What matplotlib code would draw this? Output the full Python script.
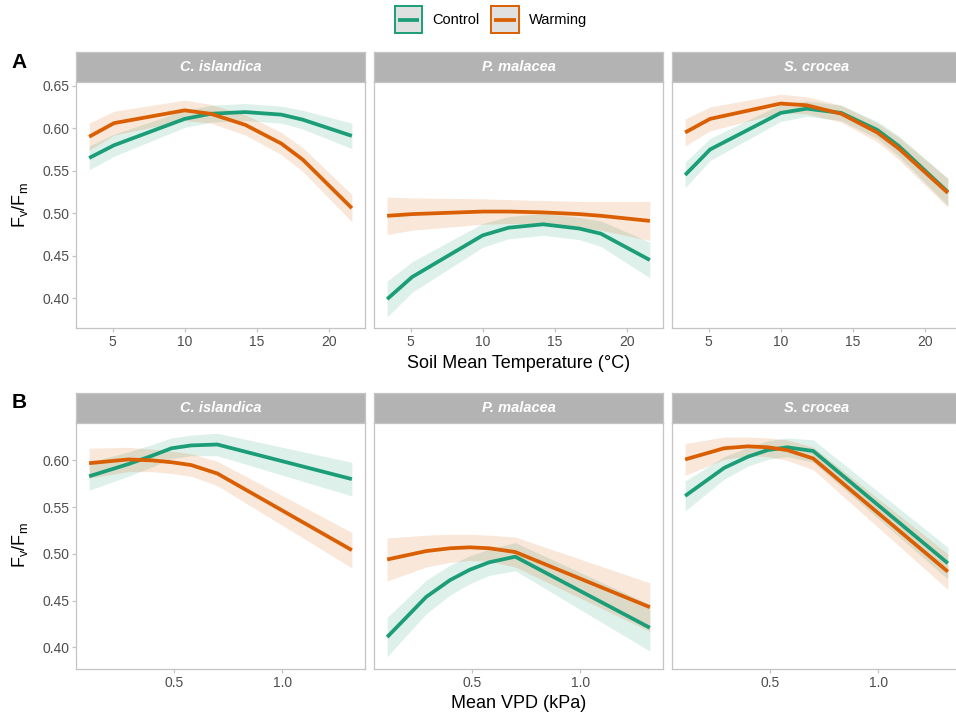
import numpy as np
import matplotlib
matplotlib.use("Agg")
import matplotlib.pyplot as plt
from matplotlib.patches import Rectangle
from matplotlib.lines import Line2D

plt.rcParams['font.family'] = ['Liberation Sans', 'DejaVu Sans']
plt.rcParams['mathtext.default'] = 'regular'

species = ['C. islandica', 'P. malacea', 'S. crocea']
treatments = ['Control', 'Warming']
colors = {'Control': '#1B9E77', 'Warming': '#D95F02'}

# soil mean temperature (°C) at which the fits are evaluated
temp_x = [3.37, 5.1, 10.0, 11.8, 14.2, 16.7, 18.2, 21.6]
# mean VPD (kPa)
vpd_x = [0.11, 0.29, 0.40, 0.49, 0.58, 0.70, 1.32]

# Fv/Fm fitted values and standard errors - temperature
ci_temp_ctrl = [0.565, 0.580, 0.611, 0.617, 0.619, 0.616, 0.610, 0.591]
ci_temp_ctrl_se = [0.014, 0.013, 0.010, 0.010, 0.010, 0.010, 0.011, 0.015]
ci_temp_warm = [0.590, 0.606, 0.621, 0.617, 0.604, 0.582, 0.563, 0.506]
ci_temp_warm_se = [0.016, 0.014, 0.012, 0.011, 0.012, 0.013, 0.014, 0.016]

pm_temp_ctrl = [0.399, 0.425, 0.474, 0.483, 0.487, 0.482, 0.476, 0.445]
pm_temp_ctrl_se = [0.021, 0.018, 0.014, 0.013, 0.013, 0.013, 0.015, 0.021]
pm_temp_warm = [0.497, 0.499, 0.502, 0.502, 0.501, 0.499, 0.497, 0.491]
pm_temp_warm_se = [0.022, 0.019, 0.015, 0.014, 0.014, 0.015, 0.017, 0.023]

sc_temp_ctrl = [0.545, 0.575, 0.618, 0.623, 0.618, 0.598, 0.579, 0.525]
sc_temp_ctrl_se = [0.015, 0.013, 0.010, 0.009, 0.009, 0.010, 0.012, 0.016]
sc_temp_warm = [0.595, 0.611, 0.629, 0.627, 0.617, 0.595, 0.576, 0.524]
sc_temp_warm_se = [0.016, 0.014, 0.011, 0.010, 0.010, 0.011, 0.013, 0.017]

# Fv/Fm fitted values and standard errors - VPD
ci_vpd_ctrl = [0.583, 0.596, 0.605, 0.613, 0.616, 0.617, 0.580]
ci_vpd_ctrl_se = [0.015, 0.013, 0.012, 0.011, 0.011, 0.012, 0.018]
ci_vpd_warm = [0.597, 0.601, 0.600, 0.598, 0.595, 0.586, 0.504]
ci_vpd_warm_se = [0.016, 0.013, 0.012, 0.012, 0.012, 0.013, 0.019]

pm_vpd_ctrl = [0.411, 0.454, 0.472, 0.483, 0.491, 0.497, 0.421]
pm_vpd_ctrl_se = [0.021, 0.018, 0.016, 0.015, 0.014, 0.015, 0.025]
pm_vpd_warm = [0.494, 0.503, 0.506, 0.507, 0.506, 0.502, 0.443]
pm_vpd_warm_se = [0.023, 0.017, 0.015, 0.014, 0.014, 0.016, 0.026]

sc_vpd_ctrl = [0.562, 0.592, 0.604, 0.611, 0.614, 0.610, 0.490]
sc_vpd_ctrl_se = [0.016, 0.012, 0.010, 0.010, 0.010, 0.012, 0.017]
sc_vpd_warm = [0.601, 0.613, 0.615, 0.614, 0.611, 0.602, 0.481]
sc_vpd_warm_se = [0.017, 0.012, 0.010, 0.010, 0.011, 0.012, 0.019]

temp_fits = {
    'C. islandica': {'Control': (ci_temp_ctrl, ci_temp_ctrl_se), 'Warming': (ci_temp_warm, ci_temp_warm_se)},
    'P. malacea': {'Control': (pm_temp_ctrl, pm_temp_ctrl_se), 'Warming': (pm_temp_warm, pm_temp_warm_se)},
    'S. crocea': {'Control': (sc_temp_ctrl, sc_temp_ctrl_se), 'Warming': (sc_temp_warm, sc_temp_warm_se)},
}
vpd_fits = {
    'C. islandica': {'Control': (ci_vpd_ctrl, ci_vpd_ctrl_se), 'Warming': (ci_vpd_warm, ci_vpd_warm_se)},
    'P. malacea': {'Control': (pm_vpd_ctrl, pm_vpd_ctrl_se), 'Warming': (pm_vpd_warm, pm_vpd_warm_se)},
    'S. crocea': {'Control': (sc_vpd_ctrl, sc_vpd_ctrl_se), 'Warming': (sc_vpd_warm, sc_vpd_warm_se)},
}

W, H = 956, 714
fig = plt.figure(figsize=(W / 100, H / 100), dpi=100)

border = '#C4C4C4'
strip_bg = '#B3B3B3'
tick_col = '#4D4D4D'

col_left = [76, 374, 672]
panel_w = 289
strip_h = 30


def fx(px):
    return px / W


def fy(py):
    return 1 - py / H


def px_axes(left, top, width, height):
    return fig.add_axes([left / W, 1 - (top + height) / H, width / W, height / H])


def draw_row(fits, xvals, top, ylim, yticks, xticks, xticklabels):
    x = np.array(xvals)
    span = x.max() - x.min()
    xlim = (x.min() - 0.05 * span, x.max() + 0.05 * span)
    for i, sp in enumerate(species):
        # strip with species name
        sax = px_axes(col_left[i], top, panel_w, strip_h)
        sax.add_patch(Rectangle((0, 0), 1, 1, transform=sax.transAxes,
                                facecolor=strip_bg, edgecolor='none'))
        sax.set_xticks([])
        sax.set_yticks([])
        for s in sax.spines.values():
            s.set_color(border)
            s.set_linewidth(0.9)
        sax.text(0.5, 0.5, sp, transform=sax.transAxes, ha='center', va='center',
                 color='white', fontsize=10.5, fontweight='bold', fontstyle='italic')

        ax = px_axes(col_left[i], top + strip_h, panel_w, 246)
        for tr in treatments:
            y, se = fits[sp][tr]
            y = np.array(y)
            se = np.array(se)
            ax.fill_between(x, y - se, y + se, color=colors[tr], alpha=0.15, lw=0)
        for tr in treatments:
            y, se = fits[sp][tr]
            ax.plot(x, y, color=colors[tr], lw=2.7, solid_capstyle='butt')
        ax.set_xlim(xlim)
        ax.set_ylim(ylim)
        ax.set_xticks(xticks)
        ax.set_xticklabels(xticklabels)
        ax.set_yticks(yticks)
        ax.tick_params(colors=border, labelcolor=tick_col, labelsize=10,
                       length=3, width=0.9, pad=2)
        if i == 0:
            ax.set_yticklabels([f'{v:.2f}' for v in yticks])
        else:
            ax.set_yticklabels([])
            ax.tick_params(axis='y', length=0)
        for s in ax.spines.values():
            s.set_color(border)
            s.set_linewidth(0.9)
        ax.set_facecolor('white')


draw_row(temp_fits, temp_x, 52.3, (0.3647, 0.654),
         [0.40, 0.45, 0.50, 0.55, 0.60, 0.65], [5, 10, 15, 20], ['5', '10', '15', '20'])
draw_row(vpd_fits, vpd_x, 392.7, (0.3772, 0.6403),
         [0.40, 0.45, 0.50, 0.55, 0.60], [0.5, 1.0], ['0.5', '1.0'])

# axis titles
fig.text(fx(518.5), fy(364), 'Soil Mean Temperature (°C)', ha='center', va='center', fontsize=13)
fig.text(fx(518.5), fy(703), 'Mean VPD (kPa)', ha='center', va='center', fontsize=13)
for yc in (205, 545):
    fig.text(fx(20), fy(yc), 'F$_{v}$/F$_{m}$', rotation=90, ha='center', va='center', fontsize=13)

# panel tags
fig.text(fx(19), fy(62), 'A', ha='center', va='center', fontsize=15, fontweight='bold')
fig.text(fx(19), fy(402), 'B', ha='center', va='center', fontsize=15, fontweight='bold')

# legend keys: grey box with coloured outline and a line through the middle
key_left = {'Control': 394.5, 'Warming': 491}
key_size = 27.5
key_top = 5.8
for tr in treatments:
    x0 = key_left[tr]
    fig.add_artist(Rectangle((fx(x0), fy(key_top + key_size)), key_size / W, key_size / H,
                             transform=fig.transFigure, facecolor='#E0E0E0',
                             edgecolor=colors[tr], linewidth=1.4))
    yc = key_top + key_size / 2
    fig.add_artist(Line2D([fx(x0 + 3), fx(x0 + key_size - 3)], [fy(yc), fy(yc)],
                          transform=fig.transFigure, color=colors[tr], lw=2.7,
                          solid_capstyle='butt'))
    fig.text(fx(x0 + key_size + 10), fy(yc), tr, ha='left', va='center', fontsize=10.5)

fig.savefig('out.png', dpi=100)
